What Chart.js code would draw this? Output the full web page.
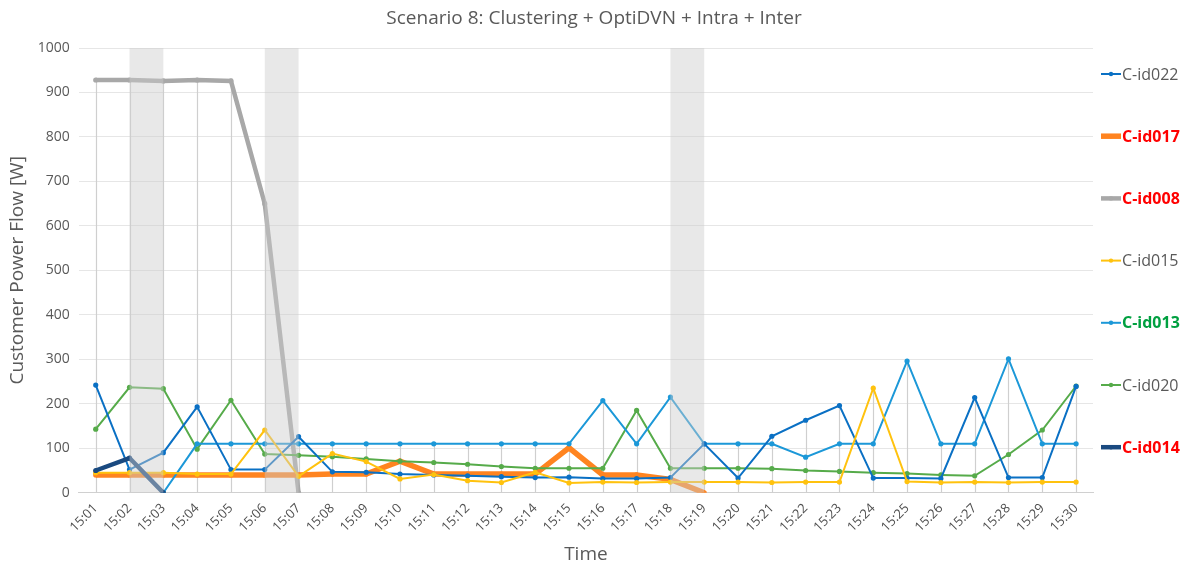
<!DOCTYPE html>
<html>
<head>
<meta charset="utf-8">
<script src="https://cdn.jsdelivr.net/npm/chart.js@4/dist/chart.umd.min.js"></script>
<style>
body { margin: 0; background: #fff; }
</style>
</head>
<body>
<canvas id="chart8" width="1189" height="568"></canvas>
<script>
var times = ["15:01","15:02","15:03","15:04","15:05","15:06","15:07","15:08","15:09","15:10",
	"15:11","15:12","15:13","15:14","15:15","15:16","15:17","15:18","15:19","15:20",
	"15:21","15:22","15:23","15:24","15:25","15:26","15:27","15:28","15:29","15:30"];

var cid022 = [242,52,90,193,52,52,126,47,46,42,40,38,36,34,35,32,32,34,110,33,127,163,196,33,33,32,214,34,34,239];
var cid017 = [40,40,40,40,40,40,40,42,42,71,42,42,42,42,101,40,40,30,0,null,null,null,null,null,null,null,null,null,null,null];
var cid008 = [928,928,926,928,926,650,0,null,null,null,null,null,null,null,null,null,null,null,null,null,null,null,null,null,null,null,null,null,null,null];
var cid015 = [45,45,45,42,42,141,37,88,70,31,41,27,23,46,22,24,23,24,24,24,23,24,24,235,25,23,24,23,24,24];
var cid013 = [null,null,0,110,110,110,110,110,110,110,110,110,110,110,110,207,110,215,110,110,110,80,110,110,296,110,110,301,110,110];
var cid020 = [143,237,234,98,208,87,84,81,76,71,68,64,59,55,55,55,185,55,55,55,54,50,48,45,43,40,38,86,141,240];
var cid014 = [50,78,0,null,null,null,null,null,null,null,null,null,null,null,null,null,null,null,null,null,null,null,null,null,null,null,null,null,null,null];

var yTicks = [0,100,200,300,400,500,600,700,800,900,1000];

// shaded columns (from - to category)
var bandFrom = ["15:02","15:06","15:18"];
var bandTo = ["15:03","15:07","15:19"];

var titleText = "Scenario 8: Clustering + OptiDVN + Intra + Inter";

// legend label styles
var legendColors = ["#595959","#FF0000","#FF0000","#595959","#00A040","#595959","#FF0000"];
var legendBold = [false,true,true,false,true,false,true];

function series(label, data, color, width, order) {
	return {
		label: label,
		data: data,
		borderColor: color,
		backgroundColor: color,
		borderWidth: width,
		pointRadius: 2.6,
		pointBorderWidth: 0,
		pointHoverRadius: 3,
		tension: 0,
		fill: false,
		spanGaps: false,
		order: order
	};
}

var hiLoLines = {
	id: "hiLoLines",
	beforeDatasetsDraw: function(chart) {
		var ctx = chart.ctx, xs = chart.scales.x, ys = chart.scales.y;
		ctx.save();
		ctx.strokeStyle = "#CFCFCF";
		ctx.lineWidth = 1.2;
		for (var i = 0; i < times.length; i++) {
			var mx = 0;
			chart.data.datasets.forEach(function(ds) {
				if (ds.data[i] != null && ds.data[i] > mx) mx = ds.data[i];
			});
			var x = Math.round(xs.getPixelForValue(i)) + 0.5;
			ctx.beginPath();
			ctx.moveTo(x, ys.getPixelForValue(mx));
			ctx.lineTo(x, ys.getPixelForValue(0));
			ctx.stroke();
		}
		ctx.restore();
	}
};

var bands = {
	id: "bands",
	afterDatasetsDraw: function(chart) {
		var ctx = chart.ctx, xs = chart.scales.x, ys = chart.scales.y;
		ctx.save();
		ctx.fillStyle = "rgba(205,205,205,0.45)";
		for (var i = 0; i < bandFrom.length; i++) {
			var x1 = xs.getPixelForValue(times.indexOf(bandFrom[i]));
			var x2 = xs.getPixelForValue(times.indexOf(bandTo[i]));
			var yt = ys.getPixelForValue(1000), yb = ys.getPixelForValue(0);
			ctx.fillRect(x1, yt, x2 - x1, yb - yt);
		}
		ctx.restore();
	}
};

var sideLegend = {
	id: "sideLegend",
	afterDraw: function(chart) {
		var ctx = chart.ctx;
		ctx.save();
		// title, centred on the whole picture
		ctx.fillStyle = "#595959";
		ctx.font = "19px 'Open Sans'";
		ctx.textAlign = "center";
		ctx.textBaseline = "middle";
		ctx.fillText(titleText, 594, 19);
		ctx.textAlign = "left";
		chart.data.datasets.forEach(function(ds, i) {
			var y = 74 + i * 62.2;
			ctx.strokeStyle = ds.borderColor;
			ctx.lineWidth = ds.borderWidth;
			ctx.beginPath();
			ctx.moveTo(1101, y);
			ctx.lineTo(1121, y);
			ctx.stroke();
			ctx.fillStyle = ds.borderColor;
			ctx.beginPath();
			ctx.arc(1111, y, 2.2, 0, Math.PI * 2);
			ctx.fill();
			ctx.fillStyle = legendColors[i];
			ctx.font = (legendBold[i] ? "bold " : "") + "16px 'Open Sans'";
			ctx.textBaseline = "middle";
			ctx.fillText(ds.label, 1122, y + 1);
		});
		ctx.restore();
	}
};

var chart8 = new Chart(document.getElementById("chart8"), {
	type: "line",
	data: {
		labels: times,
		datasets: [
			series("C-id022", cid022, "#0A70C4", 2, 2),
			series("C-id017", cid017, "#FF8420", 5.5, 5),
			series("C-id008", cid008, "#A8A8A8", 4.5, 6),
			series("C-id015", cid015, "#FFC20E", 2, 1),
			series("C-id013", cid013, "#1C98D8", 2, 3),
			series("C-id020", cid020, "#56AB4A", 2, 4),
			series("C-id014", cid014, "#1A4A80", 4.5, 0)
		]
	},
	options: {
		responsive: false,
		animation: false,
		layout: { padding: { left: 6, right: 96, top: 48, bottom: 2 } },
		plugins: {
			legend: { display: false },
			tooltip: { enabled: false },
			title: { display: false }
		},
		scales: {
			x: {
				offset: true,
				grid: { display: false, drawTicks: false },
				border: { color: "#D0D0D0" },
				ticks: {
					color: "#4F4F4F",
					font: { family: "'Open Sans'", size: 13 },
					minRotation: 45,
					maxRotation: 45,
					autoSkip: false,
					padding: 8
				},
				title: {
					display: true,
					text: "Time",
					color: "#595959",
					font: { family: "'Open Sans'", size: 19 },
					padding: { top: 0, bottom: 0 }
				}
			},
			y: {
				min: 0,
				max: 1000,
				afterBuildTicks: function(axis) {
					axis.ticks = yTicks.map(function(v) { return { value: v }; });
				},
				grid: { color: "#E6E6E6", drawTicks: false },
				border: { display: false },
				ticks: {
					color: "#595959",
					font: { family: "'Open Sans'", size: 14 },
					padding: 9,
					callback: function(v) { return String(v); }
				},
				title: {
					display: true,
					text: "Customer Power Flow [W]",
					color: "#595959",
					font: { family: "'Open Sans'", size: 19 },
					padding: { top: 0, bottom: 0 }
				}
			}
		}
	},
	plugins: [hiLoLines, bands, sideLegend]
});
</script>
</body>
</html>
